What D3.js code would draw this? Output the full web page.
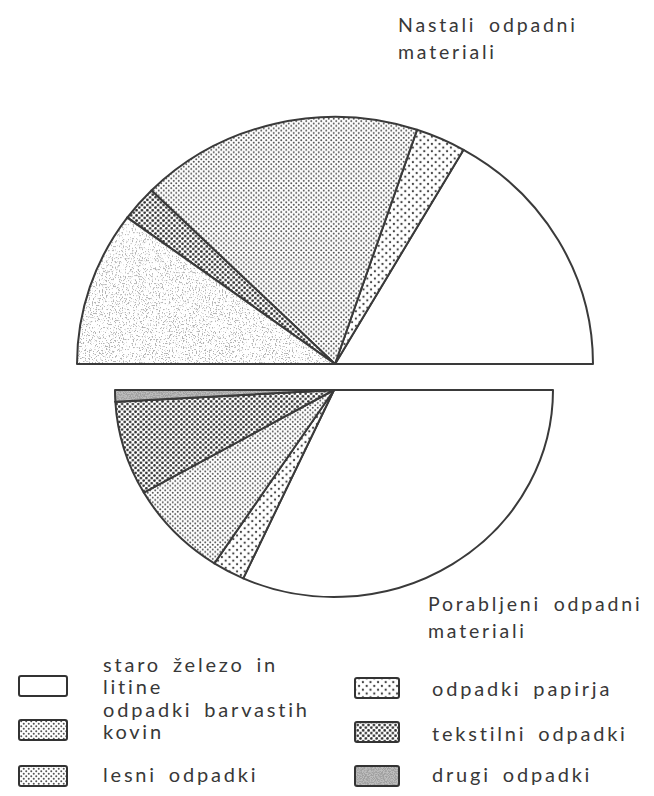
<!DOCTYPE html>
<html>
<head>
<meta charset="utf-8">
<script src="https://cdn.jsdelivr.net/npm/d3@7"></script>
<style>
  body { margin: 0; background: #fff; }
  text { font-family: Lato, "DejaVu Sans", sans-serif; fill: #383838; }
</style>
</head>
<body>
<svg id="chart" width="654" height="796"></svg>
<script>
// slice order, counterclockwise on top / clockwise below, starting at the right
var keys = ["zelezo", "papir", "barvaste", "tekstil", "les", "drugi"];
var nastali = [33.4, 6.3, 35.5, 4.6, 0, 20.2];
var porabljeni = [63.6, 4.8, 15.1, 14.7, 0, 1.8];
var titles = [["Nastali odpadni", "materiali"], ["Porabljeni odpadni", "materiali"]];
var legendKeys = ["zelezo", "barvaste", "les", "papir", "tekstil", "drugi"];
var legendLabels = [["staro železo in", "litine"], ["odpadki barvastih", "kovin"], ["lesni odpadki"],
                    ["odpadki papirja"], ["tekstilni odpadki"], ["drugi odpadki"]];

var svg = d3.select("#chart");
var defs = svg.append("defs");

function dotPattern(id, step, r, color) {
  var p = defs.append("pattern").attr("id", id)
      .attr("patternUnits", "userSpaceOnUse")
      .attr("width", step).attr("height", step);
  p.append("rect").attr("width", step).attr("height", step).attr("fill", "#fff");
  p.append("circle").attr("cx", step / 4).attr("cy", step / 4).attr("r", r).attr("fill", color);
  p.append("circle").attr("cx", step * 3 / 4).attr("cy", step * 3 / 4).attr("r", r).attr("fill", color);
}
dotPattern("pat-papir", 7.6, 1.15, "#444");
dotPattern("pat-barvaste", 5, 1.0, "#555");
dotPattern("pat-les", 5, 1.0, "#555");
dotPattern("pat-tekstil", 5.4, 1.35, "#2e2e2e");

// noisy "drugi" fill
var f = defs.append("filter").attr("id", "noise").attr("x", 0).attr("y", 0).attr("width", 1).attr("height", 1);
f.append("feTurbulence").attr("type", "fractalNoise").attr("baseFrequency", 0.7).attr("numOctaves", 2).attr("seed", 3);
f.append("feColorMatrix").attr("type", "matrix")
  .attr("values", "0 0 0 0 0.45  0 0 0 0 0.45  0 0 0 0 0.45  9 0 0 0 -5.1");
var pd = defs.append("pattern").attr("id", "pat-drugi")
    .attr("patternUnits", "userSpaceOnUse").attr("width", 120).attr("height", 120);
pd.append("rect").attr("width", 120).attr("height", 120).attr("fill", "#fff");
pd.append("rect").attr("width", 120).attr("height", 120).attr("filter", "url(#noise)");

var f2 = defs.append("filter").attr("id", "noise2").attr("x", 0).attr("y", 0).attr("width", 1).attr("height", 1);
f2.append("feTurbulence").attr("type", "fractalNoise").attr("baseFrequency", 0.9).attr("numOctaves", 2).attr("seed", 7);
f2.append("feColorMatrix").attr("type", "matrix")
  .attr("values", "0 0 0 0 0.35  0 0 0 0 0.35  0 0 0 0 0.35  5 0 0 0 -2.0");
var pd2 = defs.append("pattern").attr("id", "pat-drugi-dark")
    .attr("patternUnits", "userSpaceOnUse").attr("width", 60).attr("height", 60);
pd2.append("rect").attr("width", 60).attr("height", 60).attr("fill", "#bdbdbd");
pd2.append("rect").attr("width", 60).attr("height", 60).attr("filter", "url(#noise2)");

function fillFor(k) { return k == "zelezo" ? "#fff" : "url(#pat-" + k + ")"; }

function drawHalf(values, cx, cy, r, ry, a0, a1, drugiFill) {
  var pie = d3.pie().sort(null).startAngle(a0).endAngle(a1);
  var arc = d3.arc().innerRadius(0).outerRadius(r);
  var g = svg.append("g")
      .attr("transform", "translate(" + cx + "," + cy + ") scale(1," + (ry / r) + ")");
  g.selectAll(".slice")
      .data(pie(values))
      .enter().append("path")
      .attr("class", "slice")
      .attr("d", arc)
      .attr("fill", function(d, i) {
        return keys[i] == "drugi" ? drugiFill : fillFor(keys[i]);
      })
      .attr("stroke", "#3a3a3a")
      .attr("stroke-width", 2)
      .attr("stroke-linejoin", "round")
      .attr("vector-effect", "non-scaling-stroke");
}

drawHalf(nastali, 335, 364, 258, 247, Math.PI / 2, -Math.PI / 2, "url(#pat-drugi)");
drawHalf(porabljeni, 334, 390, 219, 207, Math.PI / 2, Math.PI * 3 / 2, "url(#pat-drugi-dark)");

function drawTitle(lines, x, y) {
  svg.append("text")
      .attr("x", x).attr("y", y)
      .style("font-size", "19.5px").style("letter-spacing", "2.8px").style("word-spacing", "5px")
      .selectAll("tspan").data(lines).enter().append("tspan")
      .attr("x", x).attr("dy", function(d, i) { return i ? 27 : 0; })
      .text(function(d) { return d; });
}
drawTitle(titles[0], 398, 32);
drawTitle(titles[1], 428, 611);

// legend
var legendPos = [
  {x: 19, y: 676, tx: 103, ty: 672},
  {x: 19, y: 720, tx: 103, ty: 717},
  {x: 19, y: 766, tx: 103, ty: 782},
  {x: 355, y: 678, tx: 432, ty: 696},
  {x: 355, y: 722, tx: 432, ty: 741},
  {x: 355, y: 766, tx: 432, ty: 782}
];
var legend = svg.selectAll(".legend")
    .data(legendKeys)
    .enter().append("g")
    .attr("class", "legend");
legend.append("rect")
    .attr("x", function(d, i) { return legendPos[i].x; })
    .attr("y", function(d, i) { return legendPos[i].y; })
    .attr("width", function(d, i) { return i < 3 ? 48 : 44; })
    .attr("height", 20)
    .attr("rx", 2)
    .attr("fill", function(d) { return d == "drugi" ? "url(#pat-drugi-dark)" : fillFor(d); })
    .attr("stroke", "#333")
    .attr("stroke-width", 2);
legend.append("text")
    .style("font-size", "20px").style("letter-spacing", "2.8px").style("word-spacing", "4px")
    .attr("y", function(d, i) { return legendPos[i].ty; })
    .selectAll("tspan")
    .data(function(d, i) { return legendLabels[i].map(function(s) { return {s: s, i: i}; }); })
    .enter().append("tspan")
    .attr("x", function(d) { return legendPos[d.i].tx; })
    .attr("dy", function(d, j) { return j ? 22 : 0; })
    .text(function(d) { return d.s; });
</script>
</body>
</html>
